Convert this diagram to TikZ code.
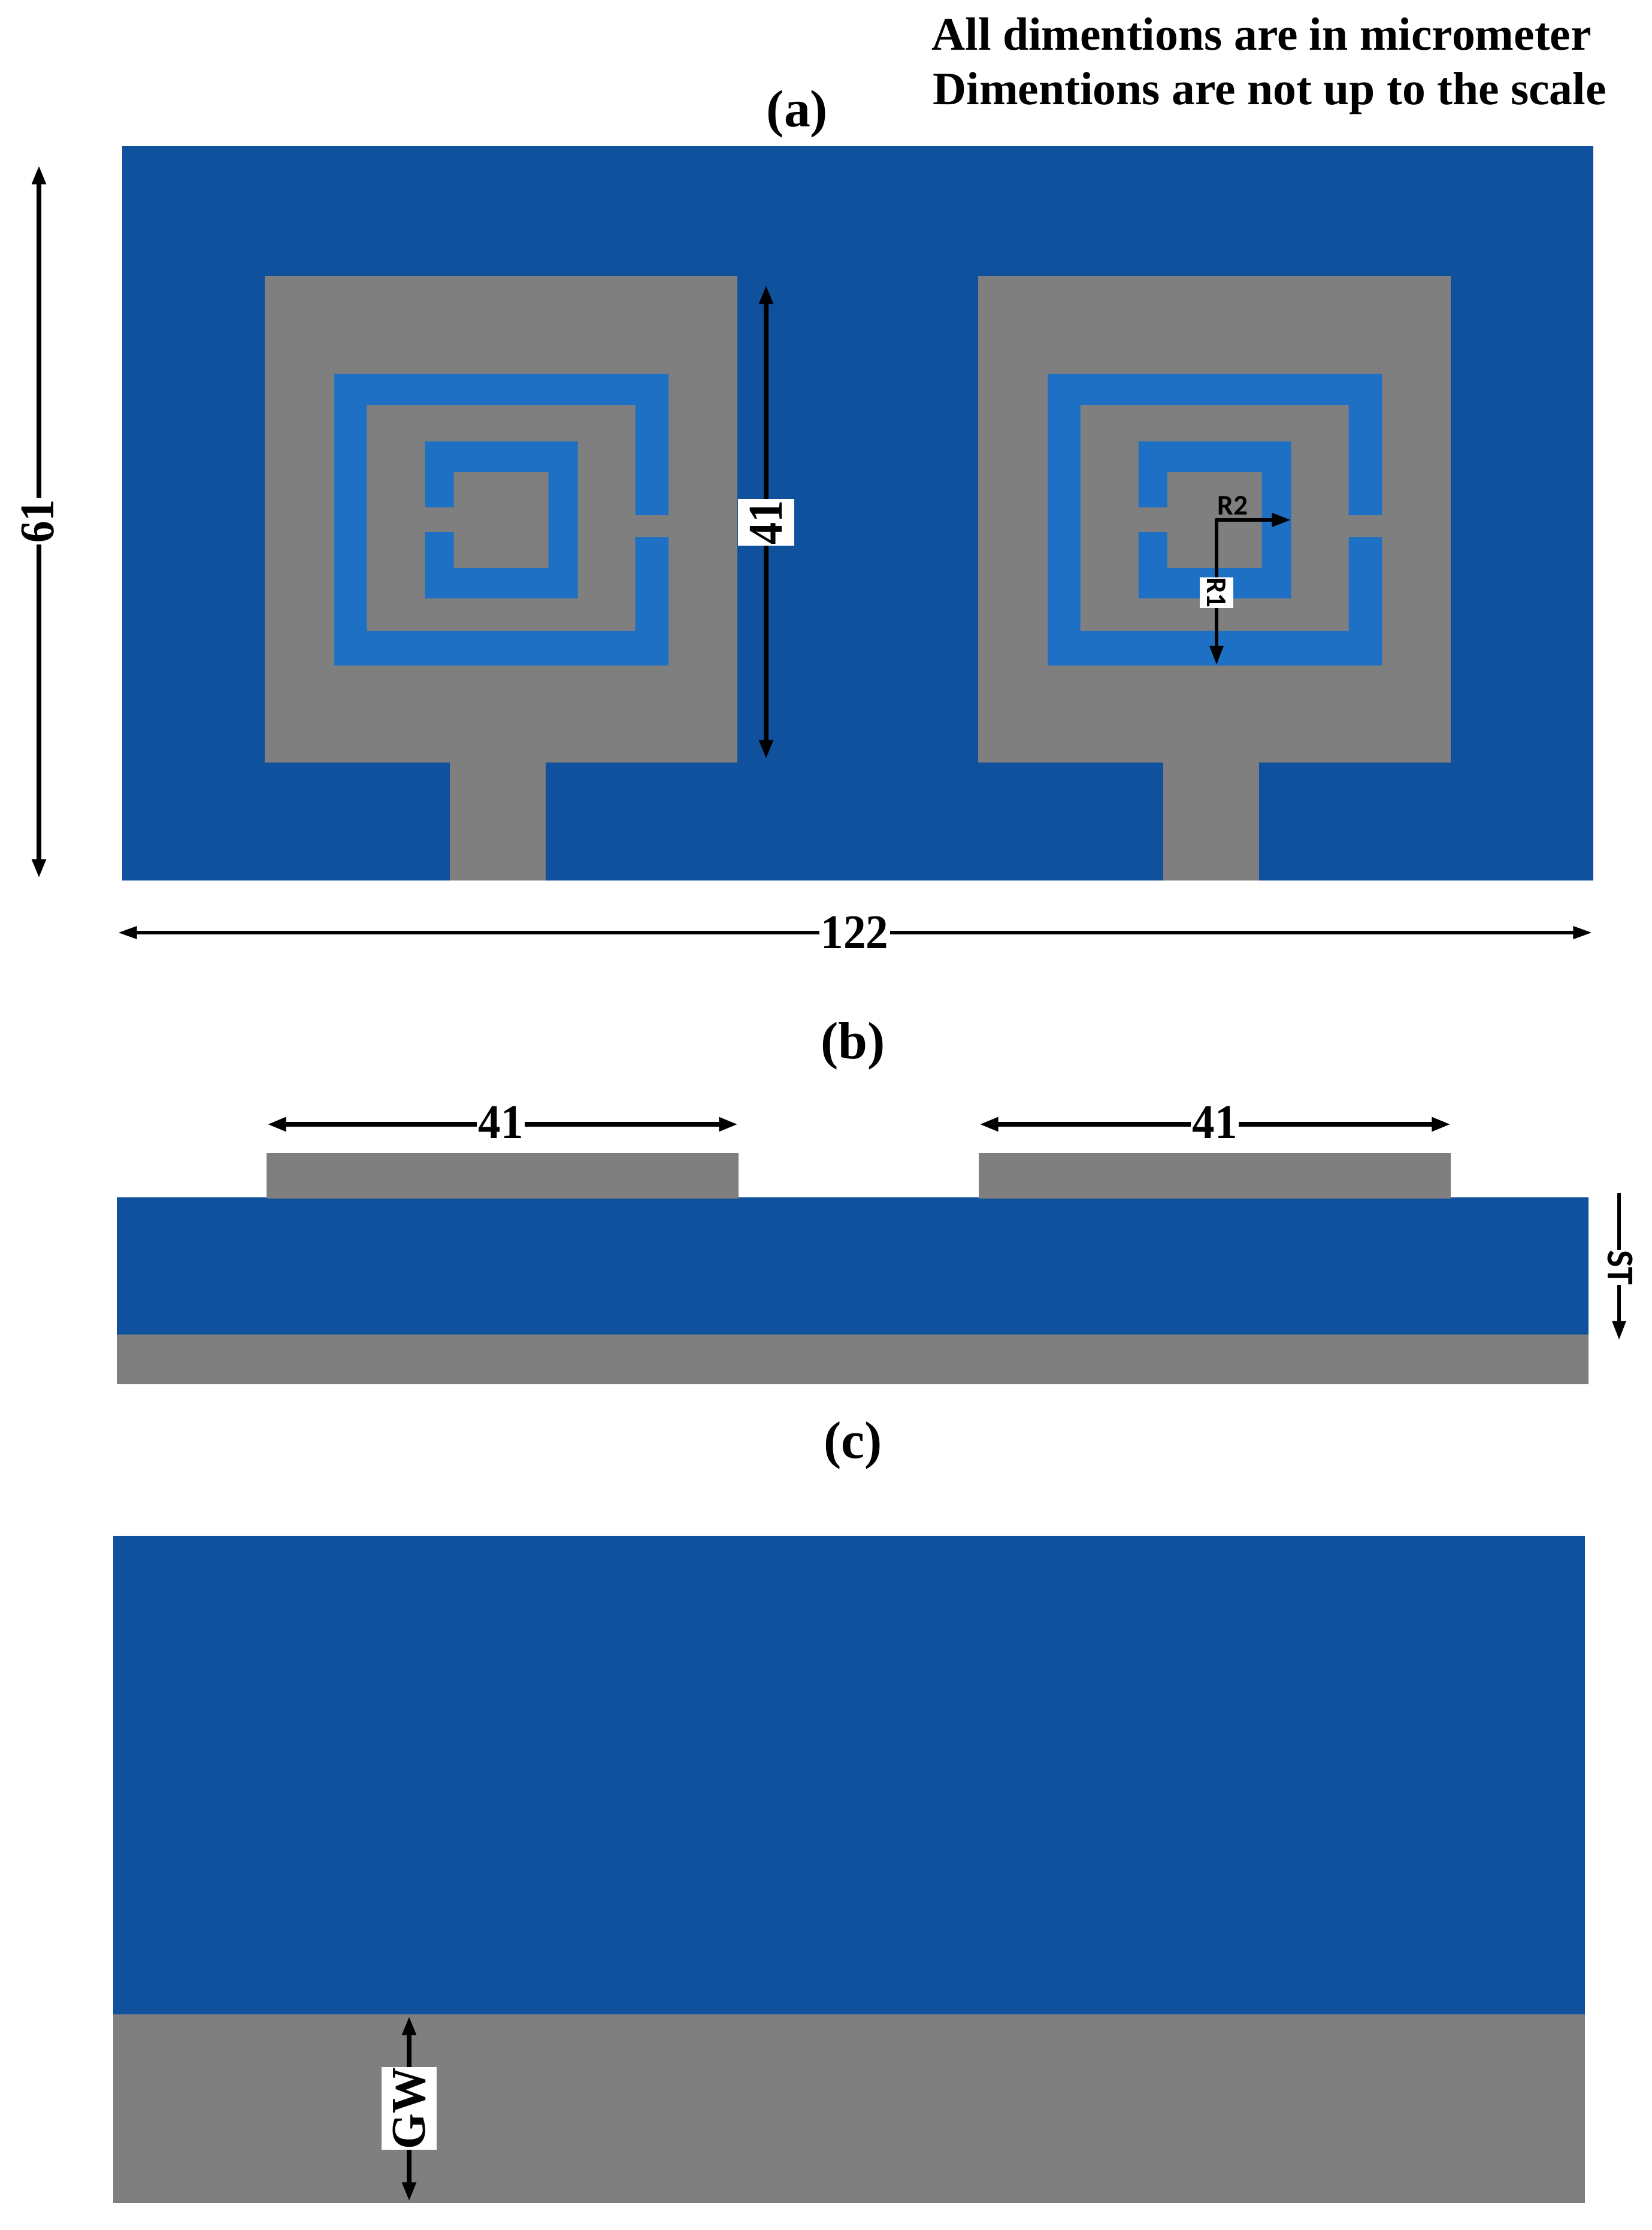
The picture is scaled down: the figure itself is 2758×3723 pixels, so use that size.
\documentclass[tikz,border=0pt]{standalone}
\usepackage{fontspec}
\usepackage{graphicx}
\setmainfont{Liberation Serif}
\newfontfamily\lblsans{Carlito}
\usetikzlibrary{arrows.meta}
\definecolor{subblue}{RGB}{16,81,157}
\definecolor{ringblue}{RGB}{30,112,196}
\definecolor{metal}{RGB}{127,127,127}
\tikzset{
  hd/.tip={Triangle[length=18pt,width=12.5pt]},
  smallhd/.tip={Triangle[length=18pt,width=11.5pt]},
  dimboth/.style={line width=4.8pt,{hd}-{hd}},
  dimthin/.style={line width=3.4pt,{smallhd}-{smallhd}},
  dimone/.style={line width=3.6pt,-{hd}},
  titletxt/.style={font=\bfseries\fontsize{50pt}{50pt}\selectfont,inner sep=0pt,text=black},
  notetxt/.style={font=\bfseries\fontsize{44.2pt}{44.2pt}\selectfont,inner sep=0pt,anchor=base west,text=black},
  numtxt/.style={font=\bfseries\fontsize{46pt}{46pt}\selectfont,text=black,fill=white,inner xsep=1.5pt,inner ysep=0pt},
  boxtxt/.style={numtxt,minimum width=44.4pt,minimum height=53.5pt,inner sep=0pt},
  sanstxt/.style={font=\lblsans\bfseries\fontsize{27pt}{27pt}\selectfont,text=black,inner sep=0pt},
}
\newcommand{\unitcell}{%
  \fill[metal] (442,461) rectangle (1231,1273);
  \fill[metal] (751,1270) rectangle (911,1470);
  \fill[ringblue] (1116,860) -- (1116,624) -- (558,624) -- (558,1111) -- (1116,1111) -- (1116,897) -- (1060.5,897) -- (1060.5,1053) -- (612.5,1053) -- (612.5,676) -- (1060.5,676) -- (1060.5,860) -- cycle;
  \fill[ringblue] (709.5,847) -- (709.5,737) -- (964.5,737) -- (964.5,999) -- (709.5,999) -- (709.5,888) -- (757.5,888) -- (757.5,948) -- (915.5,948) -- (915.5,788) -- (757.5,788) -- (757.5,847) -- cycle;
}
\begin{document}
\begin{tikzpicture}[x=0.02cm,y=-0.02cm]
\useasboundingbox (0,0) rectangle (2758,3723);
% panel (a)
\fill[subblue] (204,244) rectangle (2660,1470);
\begin{scope}\unitcell\end{scope}
\begin{scope}[shift={(1191,0)}]\unitcell\end{scope}
% panel (b)
\fill[subblue] (195,1999) rectangle (2652,2228);
\fill[metal] (195,2228) rectangle (2652,2311);
\fill[metal] (445,1925) rectangle (1233,2001);
\fill[metal] (1634,1925) rectangle (2422,2001);
% panel (c)
\fill[subblue] (189,2564) rectangle (2646,3363);
\fill[metal] (189,3363) rectangle (2646,3678);
% titles and notes
\node[notetxt] (noteA) at (1555,83) {All dimentions are in micrometer};
\node[notetxt] (noteB) at (1557,174) {Dimentions are not up to the scale};
\node[titletxt] (capa) at (1331,190) {(a)};
\node[titletxt] (capb) at (1424,1746) {(b)};
\node[titletxt] (capc) at (1424,2413) {(c)};
% 61
\coordinate (h1) at (65,276);
\coordinate (h2) at (65,1466);
\draw[dimboth] (h1) -- (h2);
\node[numtxt,rotate=90] (lbl61) at (63,870) {\scalebox{0.9}[1]{61}};
% 122
\coordinate (w1) at (197,1557);
\coordinate (w2) at (2658,1557);
\draw[dimthin] (w1) -- (w2);
\node[numtxt] (lbl122) at (1427,1557) {\scalebox{0.93}[1]{122}};
% 41 in (a)
\coordinate (p1) at (1279,476);
\coordinate (p2) at (1279,1267);
\draw[dimboth] (p1) -- (p2);
\node[boxtxt,rotate=90] (lbl41a) at (1279,872) {\scalebox{0.92}[1]{41}};
% R1, R2
\coordinate (rc) at (2031,868);
\coordinate (r2e) at (2155,868);
\coordinate (r1e) at (2031,1110);
\draw[dimone,line cap=round] (rc) -- (r2e);
\draw[dimone,line cap=round] (rc) -- (r1e);
\node[sanstxt] (lblR2) at (2058,844) {R2};
\node[sanstxt,fill=white,minimum width=28pt,minimum height=32pt,rotate=-90] (lblR1) at (2031,989.5) {R1};
% 41 in (b)
\coordinate (b1) at (446,1877);
\coordinate (b2) at (1232,1877);
\draw[dimboth] (b1) -- (b2);
\node[numtxt] (lbl41b) at (836,1874) {\scalebox{0.93}[1]{41}};
\coordinate (b3) at (1635,1877);
\coordinate (b4) at (2422,1877);
\draw[dimboth] (b3) -- (b4);
\node[numtxt] (lbl41c) at (2028,1874) {\scalebox{0.93}[1]{41}};
% ST
\coordinate (st1) at (2703,1992);
\coordinate (st2) at (2703,2237);
\draw[line width=3.4pt,-{hd}] (st1) -- (st2);
\node[font=\lblsans\bfseries\fontsize{36pt}{36pt}\selectfont,fill=white,inner xsep=0pt,inner ysep=0pt,rotate=-90] (lblST) at (2705,2116) {\scalebox{0.95}[1]{ST}};
% GW
\coordinate (g1) at (683,3366);
\coordinate (g2) at (683,3675);
\draw[dimboth] (g1) -- (g2);
\node[numtxt,rotate=90,minimum width=78.5pt,minimum height=52pt,inner sep=0pt] (lblGW) at (683,3520) {\scalebox{0.95}[1]{GW}};
\end{tikzpicture}
\end{document}
